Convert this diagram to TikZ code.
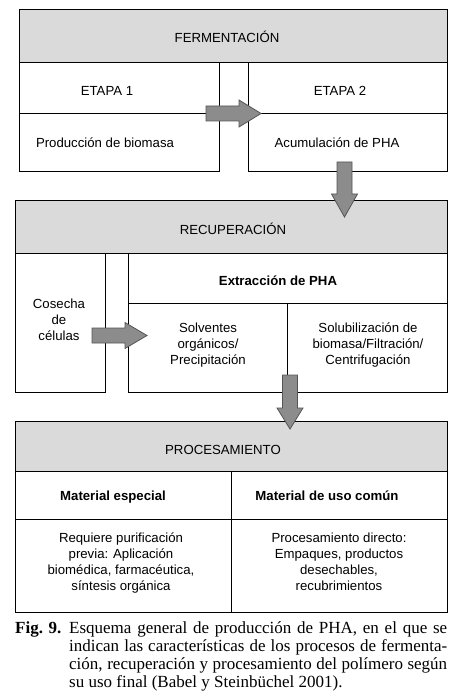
\documentclass[tikz,border=0pt]{standalone}
\usepackage{fontspec}
\setmainfont{Liberation Serif}
\newfontfamily\sansf{Liberation Sans}
\usepackage{xcolor}
\usepackage{tikz}
\usetikzlibrary{positioning}
\definecolor{headgray}{RGB}{218,218,218}
\definecolor{arrowgray}{RGB}{140,140,140}
\definecolor{arrowedge}{RGB}{85,85,85}

\begin{document}
\begin{tikzpicture}[x=1pt, y=-1pt,
    cell/.style={draw=black, line width=0.9pt},
    head/.style={cell, fill=headgray},
    txt/.style={font=\sansf\fontsize{13.2}{15.8}\selectfont, inner sep=0pt, align=center},
    txtb/.style={txt, font=\sansf\bfseries\fontsize{13.2}{15.8}\selectfont},
    blockarrow/.style={fill=arrowgray, draw=arrowedge, line width=0.8pt, line join=miter}]
  \useasboundingbox (0,0) rectangle (459,700);
  \fill[white] (0,0) rectangle (459,700);
  \draw[head] (19,9) rectangle (447,62);
  \draw[cell] (19,62) rectangle (219,171);
  \draw[cell] (19,113) -- (219,113);
  \draw[cell] (248,62) rectangle (447,171);
  \draw[cell] (248,113) -- (447,113);
  \draw[head] (15,200) rectangle (447,253);
  \draw[cell] (15,253) rectangle (105,392);
  \draw[cell] (128,253) rectangle (447,392);
  \draw[cell] (128,303) -- (447,303);
  \draw[cell] (287,303) -- (287,392);
  \draw[head] (15,421) rectangle (447,471);
  \draw[cell] (15,471) rectangle (447,612);
  \draw[cell] (15,519) -- (447,519);
  \draw[cell] (231,471) -- (231,612);
  \node[txt, anchor=base] (ferm) at (227,42.5) {FERMENTACIÓN};
  \node[txt, anchor=base] (etapaA) at (107,95.5) {ETAPA 1};
  \node[txt, anchor=base] (etapaB) at (340,95.5) {ETAPA 2};
  \node[txt, anchor=base] (biomasa) at (105,148) {Producción de biomasa};
  \node[txt, anchor=base] (acum) at (337,148) {Acumulación de PHA};
  \node[txt, anchor=base] (recup) at (233,235) {RECUPERACIÓN};
  \node[txtb, anchor=base] (extr) at (278,285) {Extracción de PHA};
  \node[txt, anchor=north] (cosecha) at (59,299) {Cosecha\\de\\células};
  \node[txt, anchor=north] (solv) at (208,323) {Solventes\\orgánicos/\\Precipitación};
  \node[txt, anchor=north] (solub) at (368,323) {Solubilización de\\biomasa/Filtración/\\Centrifugación};
  \node[txt, anchor=base] (proc) at (223,454) {PROCESAMIENTO};
  \node[txtb, anchor=base] (espec) at (113,500.5) {Material especial};
  \node[txtb, anchor=base] (comun) at (327,500.5) {Material de uso común};
  \node[txt, anchor=north] (purif) at (121,533) {Requiere purificación\\previa: Aplicación\\biomédica, farmacéutica,\\síntesis orgánica};
  \node[txt, anchor=north] (directo) at (339,533) {Procesamiento directo:\\Empaques, productos\\desechables,\\recubrimientos};
  \draw[blockarrow] (206,106) -- (239,106) -- (239,100) -- (261,113.5) -- (239,127) -- (239,121) -- (206,121) -- cycle;
  \draw[blockarrow] (337,162) -- (352,162) -- (352,194) -- (357.5,194) -- (344.5,217) -- (331.5,194) -- (337,194) -- cycle;
  \draw[blockarrow] (92,328) -- (125,328) -- (125,322.5) -- (147,335.5) -- (125,348.5) -- (125,343) -- (92,343) -- cycle;
  \draw[blockarrow] (282.5,375) -- (297.5,375) -- (297.5,408) -- (303,408) -- (290,429) -- (277,408) -- (282.5,408) -- cycle;
  \node[anchor=base west, inner sep=0pt, font=\fontsize{17}{18}\selectfont\bfseries] (fig) at (15,633) {Fig. 9.};
  \node[anchor=north west, inner sep=0pt, align=left, font=\fontsize{17}{18}\selectfont] (caption) at (69,621.5)
      {\makebox[378pt][s]{Esquema general de producción de PHA, en el que se}\\
       \makebox[378pt][s]{indican las características de los procesos de fermenta-}\\
       \makebox[378pt][s]{ción, recuperación y procesamiento del polímero según}\\
       su uso final (Babel y Steinbüchel 2001).};
\end{tikzpicture}
\end{document}
